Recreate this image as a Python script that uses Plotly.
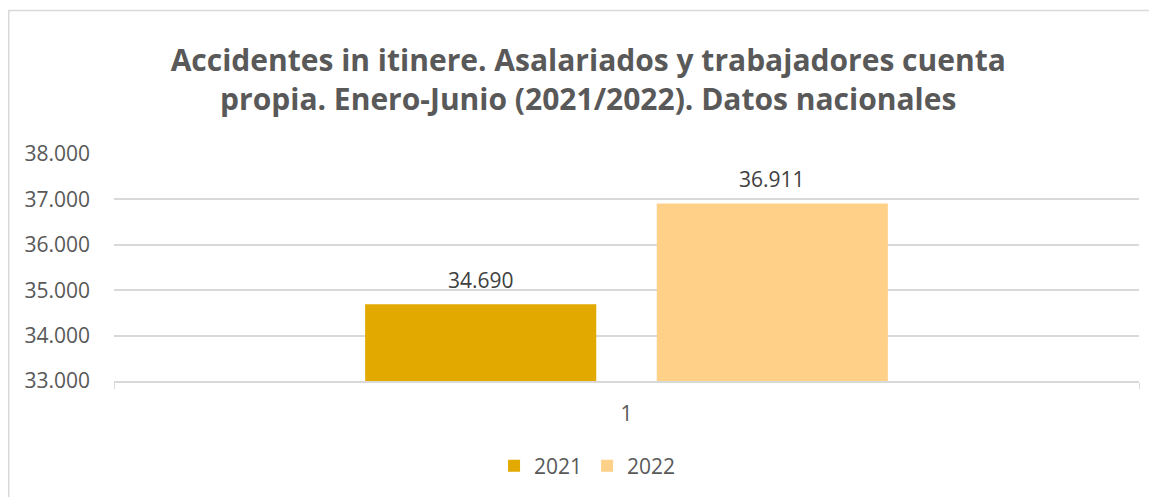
import plotly.graph_objects as go

categories = ["1"]
series_names = ["2021", "2022"]
values_2021 = [34690]
values_2022 = [36911]
colors = ["#E2A900", "#FFD188"]
title_text = "Accidentes in itinere. Asalariados y trabajadores cuenta<br>propia. Enero-Junio (2021/2022). Datos nacionales"

FONT = "Open Sans, Noto Sans, sans-serif"

# page body adds an 8px offset, so the figure is drawn 8px smaller
W, H = 1149, 489
L, R, T, B = 106, 18, 146, 115
pw, ph = W - L - R, H - T - B
BARGAP, BARGROUPGAP = 0.431, 0.2075

def px_x(v):
    return (v - L) / pw

def px_y(v):
    return (H - B - v) / ph

fig = go.Figure()
series_vals = [values_2021, values_2022]
for name, vals, col in zip(series_names, series_vals, colors):
    fig.add_trace(go.Bar(x=categories, y=vals, name=name, marker=dict(color=col, line=dict(width=0))))

# data labels placed at bar tops via the data axes (category index on x)
slot_px = pw * (1 - BARGAP) / len(series_names)
annotations = []
for i, vals in enumerate(series_vals):
    shift = (i - (len(series_names) - 1) / 2) * slot_px
    for ci, v in enumerate(vals):
        annotations.append(dict(x=ci, y=v, xref="x", yref="y", text=f"{v:,}".replace(",", "."),
                                showarrow=False, xshift=shift, yshift=24, yanchor="middle",
                                font=dict(size=21, color="#404040", family=FONT)))

fig.update_layout(
    width=W, height=H,
    margin=dict(l=L, r=R, t=T, b=B),
    paper_bgcolor="white", plot_bgcolor="white",
    separators=",.",
    barmode="group", bargap=BARGAP, bargroupgap=BARGROUPGAP,
    title=dict(text=title_text, x=0.505, xanchor="center", y=1 - 63 / H, yanchor="middle",
               font=dict(size=30, color="#595959", family=FONT, weight="bold")),
    font=dict(family=FONT, color="#595959"),
    showlegend=True,
    legend=dict(orientation="h", x=0.462, xanchor="center", y=px_y(458), yanchor="middle",
                font=dict(size=21, color="#595959", family=FONT), traceorder="normal"),
    xaxis=dict(type="category", range=[-0.5, len(categories) - 0.5], showgrid=False, showline=True,
               linecolor="#D9D9D9", linewidth=1.5,
               ticks="outside", tickson="boundaries", ticklen=6, tickcolor="#D9D9D9",
               tickfont=dict(size=21, color="#595959", family=FONT), ticklabelstandoff=13),
    yaxis=dict(range=[33000, 38000], dtick=1000, tickformat=",", showgrid=True, gridcolor="#D9D9D9",
               gridwidth=1.5, zeroline=False, showline=False, ticks="",
               tickfont=dict(size=21, color="#595959", family=FONT), ticklabelstandoff=23),
    annotations=annotations,
    shapes=[dict(type="rect", xref="paper", yref="paper", x0=px_x(0.75), x1=px_x(1400), y0=px_y(700),
                 y1=px_y(1.75), line=dict(color="#D9D9D9", width=1.5), fillcolor="rgba(0,0,0,0)", layer="below")],
)

fig.write_html("out.html")
